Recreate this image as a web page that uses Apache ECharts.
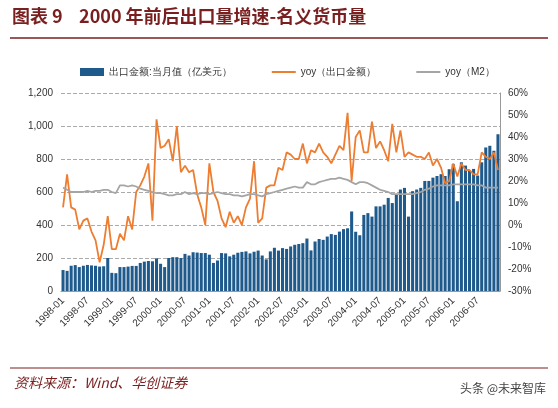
<!DOCTYPE html>
<html><head><meta charset="utf-8">
<script src="https://cdn.jsdelivr.net/npm/echarts@6/dist/echarts.min.js"></script>
<style>body{margin:0;background:#fff}#c{width:558px;height:408px}</style>
</head><body><div id="c"></div>
<script>
const months = []
for (let y = 1998; y <= 2006; y++) for (let m = 1; m <= 12; m++) months.push(y + '-' + (m < 10 ? '0' + m : m))

// 出口金额:当月值（亿美元）
const exportVal = [
  127, 122, 153, 157, 145, 153, 158, 155, 153, 148, 150, 200,
  110, 108, 145, 145, 148, 152, 152, 170, 178, 182, 180, 198,
  165, 145, 200, 205, 205, 200, 225, 215, 235, 233, 230, 230,
  220, 170, 185, 230, 228, 210, 220, 232, 237, 240, 228, 238,
  245, 215, 192, 240, 262, 245, 260, 255, 270, 280, 285, 290,
  318, 246, 300, 315, 310, 330, 345, 340, 360, 375, 380, 482,
  359, 338, 461, 472, 451, 513, 513, 523, 564, 533, 585, 615,
  625, 451, 605, 615, 625, 667, 667, 687, 697, 708, 697, 738,
  769, 544, 780, 760, 730, 740, 700, 780, 870, 880, 850, 950
]
// yoy（出口金额）%
const exportYoy = [
  8, 23, 8, 7, -2, 2, 3, -3, -7, -17, -9, 4,
  -11, -11, -4, -7, 4, -2, 15, 18, 22, 28, 2, 48,
  35, 36, 39, 29, 45, 24, 27, 24, 25, 14, 8, 0,
  28, 15, 11, 3, -1, 6, 1, 4, 0, 8, 12, 29,
  1, 3, 17, 18, 18, 26, 25, 33, 32, 30, 30, 37,
  28, 34, 33, 37, 33, 31, 28, 32, 36, 34, 51, 20,
  40, 43, 33, 33, 47, 35, 38, 34, 29, 46, 33, 43,
  31, 33, 32, 31, 31, 30, 33, 27, 30, 26, 19, 20,
  28, 22, 28, 25, 25, 23, 23, 33, 31, 30, 33, 25
]
// yoy（M2）%
const m2Yoy = [
  17, 16, 15, 15, 15, 15, 15.5, 15, 15.5, 15.5, 16, 16,
  15, 14.5, 18, 18, 17.5, 18, 17.5, 16.5, 16, 15.5, 15, 14.5,
  14.5, 14, 13.5, 13.5, 14, 14, 15, 14, 14.5, 14, 14.5, 14.5,
  14, 14.5, 15, 14.5, 14, 14, 13.5, 13.5, 13, 13.5, 14, 14,
  13.5, 13, 14, 14.5, 15, 15.5, 16, 16.5, 17, 17.5, 17, 17,
  19.5, 18.5, 18.5, 19.5, 20, 20.5, 21, 21, 21.5, 21, 20.5, 19.5,
  18.5, 19.5, 19.5, 19, 18, 17, 16, 15.5, 15, 14, 14, 14,
  14, 14, 14, 14.5, 15, 16, 16.5, 17.5, 18, 18, 18, 18,
  18.5, 18.5, 18.5, 18.5, 18.5, 18.5, 18, 18, 17, 17, 17, 17
]

const chart = echarts.init(document.getElementById('c'))
const axisText = { color: '#333', fontSize: 10, fontFamily: 'Arial' }
const lineIcon = 'path://M0,0L24,0L24,2L0,2Z'
chart.setOption({
  animation: false,
  graphic: [
    { type: 'text', left: 12, top: 7, style: { text: '图表 9    2000 年前后出口量增速-名义货币量', fontSize: 18, fontWeight: 'bold', fill: '#7a1f1f', fontFamily: 'Noto Sans CJK SC' } },
    { type: 'line', shape: { x1: 10, y1: 38, x2: 548, y2: 38 }, style: { stroke: '#7a1f1f', lineWidth: 1.5 } },
    { type: 'line', shape: { x1: 10, y1: 368, x2: 548, y2: 368 }, style: { stroke: '#7a1f1f', lineWidth: 1 } },
    { type: 'text', left: 14, top: 376, style: { text: '资料来源：Wind、华创证券', fontSize: 14, fontStyle: 'italic', fill: '#7a1f1f', fontFamily: 'Noto Sans CJK SC' } },
    { type: 'text', right: 12, top: 382, style: { text: '头条 @未来智库', fontSize: 12, fill: '#444', fontFamily: 'Noto Sans CJK SC' } }
  ],
  legend: {
    top: 62, left: 75, itemGap: 40, itemWidth: 24, itemHeight: 8,
    textStyle: { fontSize: 10, color: '#333' },
    data: [
      { name: '出口金额:当月值（亿美元）', icon: 'rect' },
      { name: 'yoy（出口金额）', icon: lineIcon },
      { name: 'yoy（M2）', icon: lineIcon }
    ]
  },
  grid: { left: 61, right: 58, top: 93, bottom: 117 },
  xAxis: {
    type: 'category', data: months, boundaryGap: true,
    axisTick: { show: false },
    axisLine: { lineStyle: { color: '#999' } },
    axisLabel: Object.assign({ interval: 5, rotate: 45 }, axisText)
  },
  yAxis: [
    {
      type: 'value', min: 0, max: 1200, interval: 200,
      axisLabel: Object.assign({ formatter: v => v.toLocaleString('en-US') }, axisText),
      splitLine: { lineStyle: { type: 'dashed', color: '#aaa' } },
      axisLine: { show: false }
    },
    {
      type: 'value', min: -30, max: 60, interval: 10,
      axisLabel: Object.assign({ formatter: '{value}%' }, axisText),
      splitLine: { show: false },
      axisLine: { show: true, lineStyle: { color: '#999' } }
    }
  ],
  series: [
    { name: '出口金额:当月值（亿美元）', type: 'bar', data: exportVal, barCategoryGap: '25%', itemStyle: { color: '#1f5a8c' } },
    { name: 'yoy（出口金额）', type: 'line', yAxisIndex: 1, data: exportYoy, symbol: 'none', lineStyle: { color: '#ed7d31', width: 1.8 }, itemStyle: { color: '#ed7d31' } },
    { name: 'yoy（M2）', type: 'line', yAxisIndex: 1, data: m2Yoy, symbol: 'none', lineStyle: { color: '#a5a5a5', width: 1.8 }, itemStyle: { color: '#a5a5a5' } }
  ]
})
</script></body></html>
